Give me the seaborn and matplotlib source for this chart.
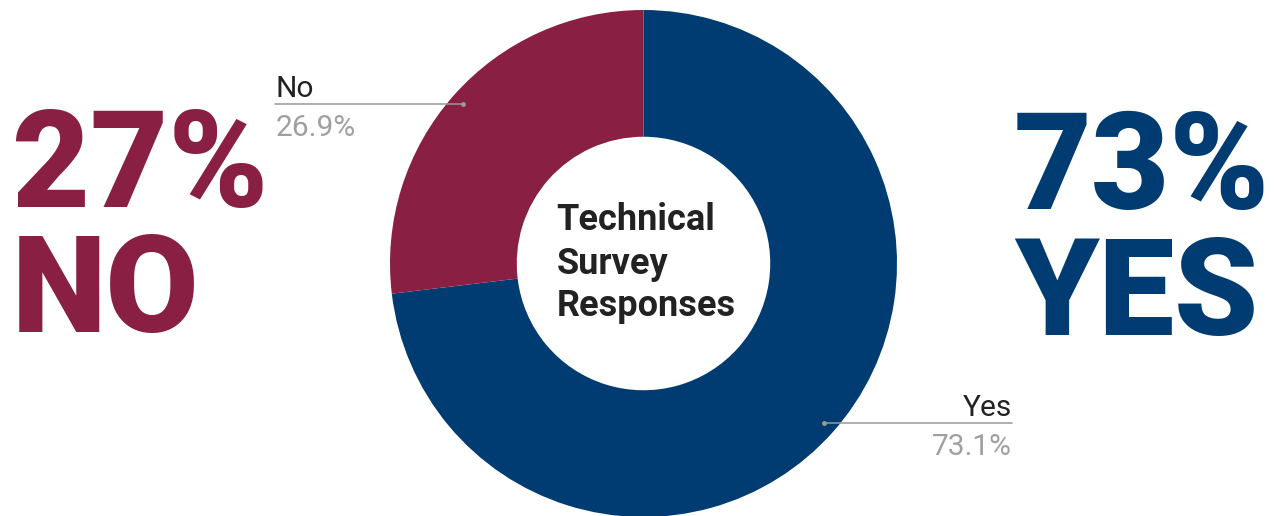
import numpy as np
import matplotlib
matplotlib.use("Agg")
import matplotlib.pyplot as plt
import seaborn as sns

# Data
labels = ["Yes", "No"]
values = [73.1, 26.9]
colors = ["#003b71", "#891f43"]
big_pct = ["73%", "27%"]
big_word = ["YES", "NO"]
center_title = "Technical\nSurvey\nResponses"

sns.set_theme(style="white")
plt.rcParams["font.family"] = ["Roboto", "DejaVu Sans"]

fig = plt.figure(figsize=(12.79, 5.16), dpi=100)
fig.patch.set_facecolor("white")

# Donut axes placed so the ring fills it
ax = fig.add_axes([390 / 1279, -1 / 516, 507 / 1279, 507 / 516])
wedges, _ = ax.pie(values, colors=colors, startangle=90, counterclock=False,
                   radius=1.0, wedgeprops=dict(width=0.5, linewidth=0))
ax.set_xlim(-1, 1)
ax.set_ylim(-1, 1)
ax.set_aspect("equal")
ax.axis("off")

# Leader lines and labels
for w, lab, val in zip(wedges, labels, values):
    ang = np.deg2rad((w.theta1 + w.theta2) / 2)
    x0, y0 = 0.95 * np.cos(ang), 0.95 * np.sin(ang)
    side = 1 if x0 > 0 else -1
    x1 = 1.453 * side
    ax.plot([x0, x1], [y0, y0], color="#999999", lw=1.1, clip_on=False)
    ax.plot([x0], [y0], "o", color="#999999", ms=2.5, clip_on=False)
    ha = "right" if side > 0 else "left"
    ax.text(x1, y0 + 0.028, lab, ha=ha, va="baseline", fontsize=21.5,
            color="#222222", clip_on=False)
    ax.text(x1, y0 - 0.126, f"{val}%", ha=ha, va="baseline", fontsize=21.5,
            color="#a0a0a0", clip_on=False)

# Centre title
ax.text(0.01, 0.0, center_title, ha="center", va="center",
        multialignment="left", fontsize=26, fontweight="bold",
        color="#222222", linespacing=1.25)

# Big side numbers
fig.text(1014 / 1279, 1 - 209 / 516, big_pct[0], ha="left", va="baseline",
         fontsize=97, fontweight="black", color=colors[0])
fig.text(1014 / 1279, 1 - 335 / 516, big_word[0], ha="left", va="baseline",
         fontsize=97, fontweight="black", color=colors[0])
fig.text(12 / 1279, 1 - 207 / 516, big_pct[1], ha="left", va="baseline",
         fontsize=97, fontweight="black", color=colors[1])
fig.text(12 / 1279, 1 - 332 / 516, big_word[1], ha="left", va="baseline",
         fontsize=97, fontweight="black", color=colors[1])

fig.savefig("out.png", dpi=100, facecolor="white")
